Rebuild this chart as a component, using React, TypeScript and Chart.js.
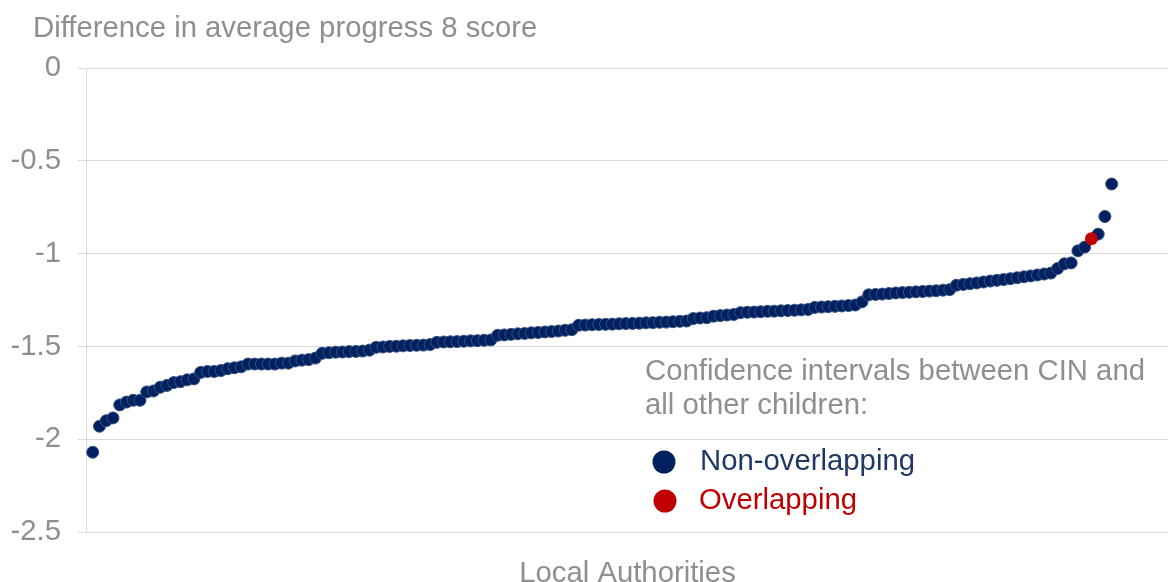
import React, { useEffect, useRef } from "react";
import { Chart, registerables } from "chart.js";

Chart.register(...registerables);

// ---- Data ----
const TITLE = "Difference in average progress 8 score";
const X_TITLE = "Local Authorities";
const LEGEND_HEADING = ["Confidence intervals between CIN and", "all other children:"];
const SERIES_LABELS = ["Non-overlapping", "Overlapping"];
const Y_TICKS = [0, -0.5, -1, -1.5, -2, -2.5];

// Sorted differences for each local authority (rank 1..152)
const values: number[] = [
  -2.07, -1.93, -1.9, -1.885, -1.815, -1.8, -1.79, -1.79, -1.745, -1.74,
  -1.72, -1.71, -1.695, -1.69, -1.68, -1.675, -1.64, -1.635, -1.635, -1.63,
  -1.62, -1.615, -1.61, -1.595, -1.595, -1.595, -1.595, -1.595, -1.59, -1.59,
  -1.578, -1.574, -1.571, -1.563, -1.537, -1.534, -1.531, -1.53, -1.528, -1.527,
  -1.525, -1.52, -1.505, -1.503, -1.5, -1.499, -1.497, -1.495, -1.494, -1.493,
  -1.49, -1.478, -1.476, -1.475, -1.474, -1.472, -1.47, -1.469, -1.467, -1.465,
  -1.44, -1.438, -1.435, -1.432, -1.43, -1.427, -1.425, -1.422, -1.42, -1.417,
  -1.413, -1.41, -1.386, -1.385, -1.383, -1.382, -1.381, -1.38, -1.378, -1.377,
  -1.376, -1.375, -1.373, -1.372, -1.37, -1.369, -1.367, -1.365, -1.363, -1.35,
  -1.347, -1.345, -1.337, -1.334, -1.331, -1.328, -1.318, -1.316, -1.315, -1.313,
  -1.311, -1.31, -1.308, -1.307, -1.305, -1.303, -1.301, -1.29, -1.288, -1.286,
  -1.284, -1.282, -1.28, -1.277, -1.26, -1.222, -1.22, -1.218, -1.215, -1.212,
  -1.21, -1.208, -1.206, -1.204, -1.202, -1.2, -1.197, -1.194, -1.17, -1.166,
  -1.162, -1.158, -1.153, -1.148, -1.144, -1.14, -1.135, -1.13, -1.125, -1.12,
  -1.115, -1.11, -1.105, -1.08, -1.055, -1.05, -0.985, -0.965, -0.92, -0.895,
  -0.8, -0.625,
];
// ranks (1-based) whose confidence intervals overlap
const overlappingRanks: number[] = [149];

const GRAY = "#8f8f8f";
const GRID = "#d9d9d9";
const BLUE = "#002060";
const BLUE_TEXT = "#1F3864";
const RED = "#C00000";
const FONT = "'Liberation Sans', Arial, sans-serif";
const FS = 29.3;

export default function App() {
  const ref = useRef<HTMLCanvasElement | null>(null);

  useEffect(() => {
    document.body.style.margin = "0";
    document.body.style.overflow = "hidden";
    const canvas = ref.current;
    if (!canvas) return;

    const nonOverlap = values
      .map((v, i) => ({ x: i + 1, y: v }))
      .filter((p) => !overlappingRanks.includes(p.x));
    const overlap = values
      .map((v, i) => ({ x: i + 1, y: v }))
      .filter((p) => overlappingRanks.includes(p.x));

    const textPlugin = {
      id: "textPlugin",
      afterDraw(chart: any) {
        const ctx = chart.ctx;
        ctx.save();
        ctx.font = `${FS}px ${FONT}`;
        ctx.textBaseline = "middle";
        ctx.textAlign = "left";
        ctx.fillStyle = GRAY;
        ctx.fillText(TITLE, 33, 29);
        ctx.fillText(LEGEND_HEADING[0], 645, 372);
        ctx.fillText(LEGEND_HEADING[1], 645, 406);
        // legend entries
        const entries = [
          { ds: chart.data.datasets[1], cx: 664, cy: 462, tx: 700, color: BLUE_TEXT },
          { ds: chart.data.datasets[0], cx: 665, cy: 501, tx: 699, color: RED },
        ];
        entries.forEach((e) => {
          ctx.beginPath();
          ctx.arc(e.cx, e.cy, 11.5, 0, Math.PI * 2);
          ctx.fillStyle = e.ds.backgroundColor;
          ctx.fill();
          ctx.fillStyle = e.color;
          ctx.fillText(e.ds.label, e.tx, e.cy);
        });
        ctx.restore();
      },
    };

    const chart = new Chart(canvas, {
      type: "scatter",
      data: {
        datasets: [
          {
            label: SERIES_LABELS[1],
            data: overlap,
            backgroundColor: RED,
            borderColor: RED,
            borderWidth: 0,
            pointRadius: 6.5,
          },
          {
            label: SERIES_LABELS[0],
            data: nonOverlap,
            backgroundColor: BLUE,
            borderColor: "#34507f",
            borderWidth: 1,
            pointRadius: 6,
          },
        ],
      },
      options: {
        responsive: false,
        animation: false,
        events: [],
        layout: { padding: { top: 68, left: 0, right: 0, bottom: 0 } },
        plugins: {
          legend: { display: false },
          tooltip: { enabled: false },
          title: { display: false },
        },
        scales: {
          x: {
            type: "linear",
            min: 0,
            max: 160.5,
            ticks: { display: false },
            grid: { display: false, drawTicks: false },
            border: { display: false },
            title: {
              display: true,
              text: X_TITLE,
              color: GRAY,
              font: { family: FONT, size: FS, lineHeight: 1.2 },
              padding: { top: 23.8, bottom: -9 },
            },
          },
          y: {
            type: "linear",
            min: -2.5,
            max: 0,
            afterBuildTicks: (axis: any) => {
              axis.ticks = Y_TICKS.map((v) => ({ value: v }));
            },
            afterFit: (axis: any) => {
              axis.width = 86;
            },
            ticks: {
              color: GRAY,
              padding: 17,
              font: { family: FONT, size: FS },
              callback: (v: any) => String(v),
            },
            grid: { color: GRID, lineWidth: 1, tickLength: 8, drawTicks: true },
            border: { display: true, color: GRID, width: 1 },
          },
        },
      },
      plugins: [textPlugin],
    });

    return () => chart.destroy();
  }, []);

  return (
    <div style={{ width: 1168, height: 582, position: "relative", background: "#fff", overflow: "hidden" }}>
      <canvas ref={ref} width={1176} height={582} style={{ display: "block" }} />
    </div>
  );
}
